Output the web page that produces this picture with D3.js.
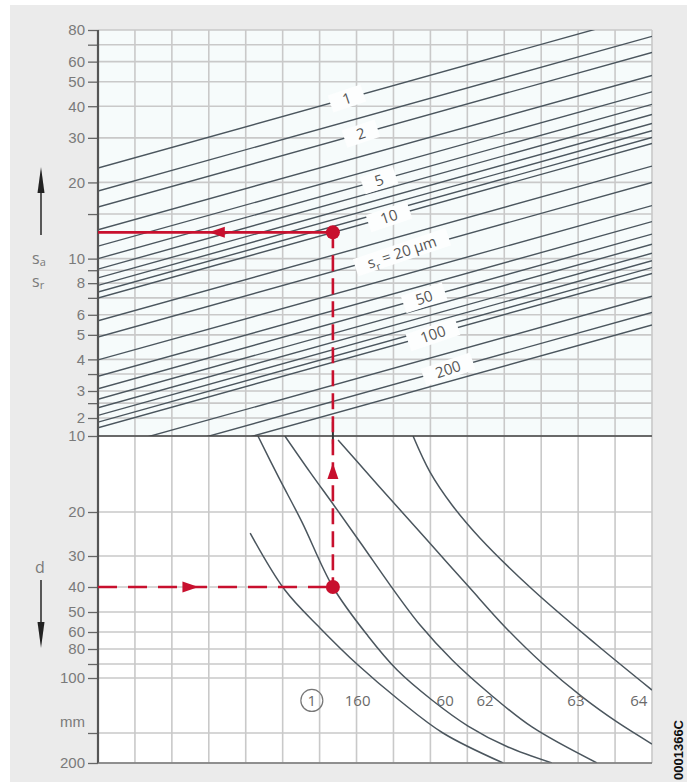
<!DOCTYPE html>
<html><head><meta charset="utf-8">
<script src="https://cdn.jsdelivr.net/npm/d3@7"></script>
<style>html,body{margin:0;padding:0;background:#fff;} svg{display:block;}</style>
</head><body>
<svg id="chart" width="687" height="783"></svg>
<script>
// ---------------- data ----------------
const xDomain = [0, 15];                 // unlabeled horizontal scale, 15 grid columns
const xGrid = d3.range(0, 16);
const sTicksMajor = [80, 60, 50, 40, 30, 20, 10, 8, 6, 5, 4, 3, 2];
const sTicksMinor = [70, 15, 9, 7, 3.5, 2.5];
const dTicksMajor = [10, 20, 30, 40, 50, 60, 80, 100, 200];
const dTicksMinor = [90, 150];

// s_r families: value at left edge (x=0) and at right edge (x=15)
const sLines = [1, 1.5, 2, 3, 4, 5, 6, 7, 8, 9, 10, 15, 20, 30, 40, 50, 60, 70, 80, 90, 100, 150, 200, 250];
const sLeft  = [22.8, 18.5, 16.0, 13.0, 11.2, 10.0, 9.09, 8.39, 7.84, 7.38, 6.99, 5.68, 4.90, 3.98, 3.43, 3.06, 2.65, 2.33, 2.08, 1.94, 1.86, 1.57, 1.39, 1.27];
const sRight = [93.0, 75.5, 65.2, 52.9, 45.6, 40.7, 37.1, 34.2, 32.0, 30.1, 28.5, 23.2, 20.0, 16.2, 14.0, 12.5, 11.4, 10.5, 9.81, 9.22, 8.74, 7.10, 6.13, 5.47];

const lineLabelS = [1, 2, 5, 10, 20, 50, 100, 200];
const lineLabelU = [6.74, 7.12, 7.61, 7.88, 8.23, 8.83, 9.07, 9.48];

// bearing series curves (x in grid units, d in mm)
const series = ["160", "60", "62", "63", "64"];
const curveU = [
  [4.12, 5.06, 6.01, 7.04, 8.15, 9.34, 10.97],
  [4.33, 4.90, 5.52, 6.36, 7.31, 8.10, 9.04, 10.02, 11.10, 12.29],
  [5.06, 5.74, 6.42, 7.15, 7.91, 8.72, 9.59, 10.61, 11.75, 13.51],
  [6.50, 7.36, 8.23, 9.15, 10.07, 11.02, 12.02, 13.11, 14.05, 15.0],
  [8.53, 8.99, 9.59, 10.34, 11.78, 13.51, 15.0]
];
const curveD = [
  [24.3, 41.1, 57.8, 90.7, 117.6, 150, 200],
  [10, 14.66, 21.9, 40, 64.2, 94.2, 117.6, 142.5, 171.6, 200],
  [10, 13.9, 19.1, 27.1, 39.3, 56.3, 87.2, 112.5, 143.5, 200],
  [10.37, 14.4, 20, 28.4, 40.4, 57.3, 89.3, 115.0, 138.3, 166.7],
  [10, 13.9, 18.8, 25.4, 41.1, 74.8, 109.3]
];
const seriesLabelU = [7.03, 9.40, 10.48, 12.94, 14.64];
const seriesLabelD = 118;
const footnoteU = 5.79;

// worked example
const exampleU = 6.36, exampleS = 12.7, exampleD = 40;
const arrowLeftU = 3.0, arrowUpD = 12.8, arrowRightU = 2.72;

// ---------------- scales ----------------
const svg = d3.select("#chart");
const x = d3.scaleLinear().domain(xDomain).range([98, 652]);
const yS = d3.scaleLog().domain([80, 3, 2, 1.75]).range([30, 391, 418, 436]);
const yD = d3.scaleLog().domain([10, 20, 30, 40, 50, 60, 80, 90, 100, 150, 200])
                        .range([436, 512, 556, 587, 612, 632, 649, 664, 678, 733, 763]);
const X0 = x(0), X1 = x(15), TOP = yS(80), MID = yD(10), BOT = yD(200);

const RED = "#c8102e", LINE = "#4b565e", GRID = "#c9c9c9", TXT = "#7a7a7a";
const FONT = "'Open Sans', 'DejaVu Sans', sans-serif";
const TICKFONT = "'Liberation Sans', Arial, sans-serif";

// background
svg.append("rect").attr("x", 10).attr("y", 5).attr("width", 677).attr("height", 777).attr("fill", "#ebebeb");
svg.append("rect").attr("x", X0).attr("y", TOP).attr("width", X1 - X0).attr("height", BOT - TOP).attr("fill", "#fff");
svg.append("rect").attr("x", X0).attr("y", TOP).attr("width", X1 - X0).attr("height", MID - TOP).attr("fill", "#f6fbfb");

const defs = svg.append("defs");
defs.append("clipPath").attr("id", "clipTop").append("rect")
  .attr("x", X0).attr("y", TOP).attr("width", X1 - X0).attr("height", MID - TOP);
defs.append("clipPath").attr("id", "clipBot").append("rect")
  .attr("x", X0).attr("y", MID).attr("width", X1 - X0).attr("height", BOT - MID);

// grid
const grid = svg.append("g").attr("stroke", GRID).attr("stroke-width", 1.6);
grid.selectAll("line.v").data(xGrid).join("line")
  .attr("x1", d => x(d)).attr("x2", d => x(d)).attr("y1", TOP).attr("y2", BOT);
grid.selectAll("line.hs").data(sTicksMajor.concat(sTicksMinor)).join("line").attr("class", "hs")
  .attr("x1", X0).attr("x2", X1).attr("y1", d => yS(d)).attr("y2", d => yS(d));
grid.selectAll("line.hd").data(dTicksMajor.concat(dTicksMinor)).join("line").attr("class", "hd")
  .attr("x1", X0).attr("x2", X1).attr("y1", d => yD(d)).attr("y2", d => yD(d));

// s_r lines
svg.append("g").attr("clip-path", "url(#clipTop)")
  .selectAll("line").data(sLines.map((s, i) => ({ s, l: sLeft[i], r: sRight[i] }))).join("line")
  .attr("x1", x(0)).attr("x2", x(15))
  .attr("y1", d => yS(d.l)).attr("y2", d => yS(d.r))
  .attr("stroke", LINE).attr("stroke-width", 1.4);

// bearing curves
const curveLine = d3.line().x(d => x(d[0])).y(d => yD(d[1])).curve(d3.curveCatmullRom.alpha(0.5));
svg.append("g").attr("clip-path", "url(#clipBot)")
  .selectAll("path").data(series.map((s, i) => curveU[i].map((u, j) => [u, curveD[i][j]]))).join("path")
  .attr("d", curveLine).attr("fill", "none").attr("stroke", LINE).attr("stroke-width", 1.5);

// line labels with white boxes
const angle = Math.atan2(yS(sRight[0]) - yS(sLeft[0]), x(15) - x(0)) * 180 / Math.PI;
const labG = svg.append("g");
lineLabelS.forEach((s, k) => {
  const i = sLines.indexOf(s);
  const u = lineLabelU[k];
  const px = x(u);
  const py = yS(sLeft[i]) + (yS(sRight[i]) - yS(sLeft[i])) * (u / 15);
  const g = labG.append("g").attr("transform", `translate(${px},${py}) rotate(${angle - 3})`);
  const t = g.append("text").attr("text-anchor", "middle").attr("dy", "0.35em")
    .attr("font-family", FONT).attr("font-size", 15).attr("fill", "#555");
  if (s === 20) {
    t.append("tspan").text("s");
    t.append("tspan").attr("font-size", 10).attr("dy", 4).text("r");
    t.append("tspan").attr("dy", -4).text(" = 20 µm");
  } else {
    t.text(String(s));
  }
  const w = t.node().getComputedTextLength();
  g.insert("rect", "text").attr("x", -w / 2 - 13).attr("y", -9).attr("width", w + 26).attr("height", 18)
    .attr("fill", "#fdfefe");
});

// axes
const axS = d3.axisLeft(yS).tickValues(sTicksMajor).tickFormat(d3.format("d")).tickSize(10).tickPadding(3);
const axSm = d3.axisLeft(yS).tickValues(sTicksMinor).tickFormat("").tickSize(10);
const axD = d3.axisLeft(yD).tickValues(dTicksMajor).tickFormat(d3.format("d")).tickSize(10).tickPadding(3);
const axDm = d3.axisLeft(yD).tickValues(dTicksMinor).tickFormat("").tickSize(10);
[axS, axSm, axD, axDm].forEach(a => {
  const g = svg.append("g").attr("transform", `translate(${X0},0)`).call(a);
  g.select(".domain").remove();
  g.selectAll("line").attr("stroke", "#666").attr("stroke-width", 1.3);
  g.selectAll("text").attr("font-family", TICKFONT).attr("font-size", 15).attr("fill", TXT);
});

// frame lines
svg.append("line").attr("x1", X0).attr("x2", X0).attr("y1", TOP).attr("y2", BOT)
  .attr("stroke", "#555").attr("stroke-width", 2.2);
svg.append("line").attr("x1", X0).attr("x2", X1).attr("y1", MID).attr("y2", MID)
  .attr("stroke", "#444").attr("stroke-width", 1.6);
svg.append("line").attr("x1", X0).attr("x2", X1).attr("y1", BOT).attr("y2", BOT)
  .attr("stroke", "#777").attr("stroke-width", 1.6);

// series labels
const sl = svg.append("g").attr("font-family", FONT).attr("font-size", 15).attr("fill", "#6a6a6a");
series.forEach((s, i) => {
  sl.append("text").attr("x", x(seriesLabelU[i])).attr("y", yD(seriesLabelD)).attr("dy", "0.35em")
    .attr("text-anchor", "middle").text(s);
});
sl.append("circle").attr("cx", x(footnoteU)).attr("cy", yD(seriesLabelD)).attr("r", 11)
  .attr("fill", "none").attr("stroke", "#777").attr("stroke-width", 1.2);
sl.append("text").attr("x", x(footnoteU)).attr("y", yD(seriesLabelD)).attr("dy", "0.35em")
  .attr("text-anchor", "middle").text("1");

// worked example (red)
const ex = x(exampleU), eyS = yS(exampleS), eyD = yD(exampleD);
svg.append("line").attr("x1", ex).attr("x2", ex).attr("y1", MID - 14).attr("y2", MID + 8)
  .attr("stroke", "#333").attr("stroke-width", 2);
svg.append("line").attr("x1", X0).attr("x2", ex).attr("y1", eyS).attr("y2", eyS)
  .attr("stroke", RED).attr("stroke-width", 2.6);
svg.append("line").attr("x1", ex).attr("x2", ex).attr("y1", eyS).attr("y2", eyD)
  .attr("stroke", RED).attr("stroke-width", 2.6).attr("stroke-dasharray", "16,7");
svg.append("line").attr("x1", X0).attr("x2", ex).attr("y1", eyD).attr("y2", eyD)
  .attr("stroke", RED).attr("stroke-width", 2.6).attr("stroke-dasharray", "19,11");
function arrow(tx, ty, dir) { // dir: 'l','r','u'
  const L = 16, W = 5.5;
  let pts;
  if (dir === "l") pts = [[tx, ty], [tx + L, ty - W], [tx + L, ty + W]];
  if (dir === "r") pts = [[tx, ty], [tx - L, ty - W], [tx - L, ty + W]];
  if (dir === "u") pts = [[tx, ty], [tx - W, ty + L], [tx + W, ty + L]];
  svg.append("polygon").attr("points", pts.map(p => p.join(",")).join(" ")).attr("fill", RED);
}
arrow(x(arrowLeftU), eyS, "l");
arrow(ex, yD(arrowUpD), "u");
arrow(x(arrowRightU), eyD, "r");
svg.append("circle").attr("cx", ex).attr("cy", eyS).attr("r", 7).attr("fill", RED);
svg.append("circle").attr("cx", ex).attr("cy", eyD).attr("r", 7).attr("fill", RED);

// axis titles
const tt = svg.append("g").attr("font-family", FONT).attr("fill", TXT).attr("font-size", 16);
const sa = tt.append("text").attr("x", 32).attr("y", 264);
sa.append("tspan").text("s");
sa.append("tspan").attr("font-size", 11).attr("dy", 2).text("a");
const sr = tt.append("text").attr("x", 32).attr("y", 287);
sr.append("tspan").text("s");
sr.append("tspan").attr("font-size", 11).attr("dy", 2).text("r");
tt.append("text").attr("x", 40).attr("y", 573).attr("text-anchor", "middle").text("d");
tt.append("text").attr("x", 85).attr("y", yD(138)).attr("dy", "0.35em").attr("text-anchor", "end")
  .attr("font-family", TICKFONT).attr("font-size", 15).text("mm");

// direction arrows
svg.append("line").attr("x1", 41).attr("x2", 41).attr("y1", 235).attr("y2", 185).attr("stroke", "#333").attr("stroke-width", 1.6);
svg.append("polygon").attr("points", "41,167 37.5,193 44.5,193").attr("fill", "#222");
svg.append("line").attr("x1", 41).attr("x2", 41).attr("y1", 580).attr("y2", 630).attr("stroke", "#333").attr("stroke-width", 1.6);
svg.append("polygon").attr("points", "41,648 37.5,622 44.5,622").attr("fill", "#222");

// figure id
svg.append("text").attr("transform", "translate(683,750) rotate(-90)").attr("text-anchor", "middle")
  .attr("font-family", "'Liberation Sans', Arial, sans-serif").attr("font-weight", "bold")
  .attr("font-size", 13).attr("fill", "#111").text("0001366C");
</script>
</body></html>
